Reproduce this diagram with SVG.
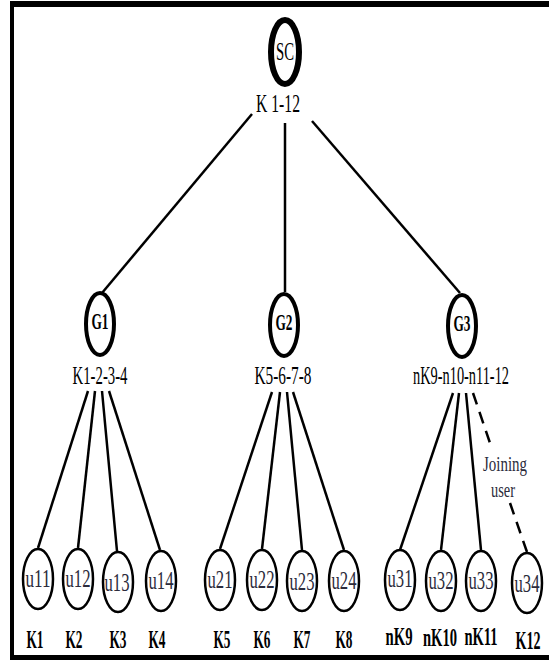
<svg xmlns="http://www.w3.org/2000/svg" width="549" height="660" viewBox="0 0 549 660">
<style>
  text { font-family: "Liberation Serif", "Times New Roman", serif; text-anchor: middle; fill: #000; }
  .lbl { font-size: 25px; }
  .u { font-size: 25px; fill: #2b2b3b; }
  .g { font-size: 24px; font-weight: bold; }
  .k { font-size: 25px; font-weight: bold; }
  .j { font-size: 21px; fill: #2b2b3b; }
  .frame { fill: #000; }
  .user { fill: #fff; stroke: #000; stroke-width: 2.5; }
  .grp { fill: #fff; stroke: #000; stroke-width: 4; }
  .root { fill: #fff; stroke: #000; stroke-width: 6; }
  .edge { stroke: #000; stroke-width: 2.5; fill: none; }
  .dash { stroke-dasharray: 12 8; }
</style>
<rect width="549" height="660" fill="#fff"/>
<g id="frame">
  <rect class="frame" x="10" y="1" width="539" height="6"/>
  <rect class="frame" x="10" y="1" width="4" height="659"/>
  <rect class="frame" x="10" y="655" width="539" height="5"/>
</g>
<g id="connectors">
  <line class="edge" x1="252" y1="114" x2="102" y2="293"/>
  <line class="edge" x1="285" y1="123" x2="285" y2="292"/>
  <line class="edge" x1="312" y1="121" x2="460" y2="293"/>
  <line class="edge" x1="88" y1="391" x2="38" y2="548"/>
  <line class="edge" x1="95" y1="391" x2="78" y2="548"/>
  <line class="edge" x1="102" y1="391" x2="117" y2="551"/>
  <line class="edge" x1="109" y1="391" x2="160" y2="550"/>
  <line class="edge" x1="272" y1="392" x2="220" y2="549"/>
  <line class="edge" x1="280" y1="392" x2="262" y2="549"/>
  <line class="edge" x1="287" y1="392" x2="302" y2="550"/>
  <line class="edge" x1="293" y1="392" x2="344" y2="550"/>
  <line class="edge" x1="453" y1="393" x2="400" y2="550"/>
  <line class="edge" x1="459" y1="393" x2="441" y2="550"/>
  <line class="edge" x1="466" y1="393" x2="481" y2="550"/>
  <line class="edge dash" x1="473" y1="393" x2="490" y2="443"/>
  <line class="edge dash" x1="510" y1="503" x2="527" y2="552"/>
  <text class="j" x="505" y="471" textLength="44" lengthAdjust="spacingAndGlyphs">Joining</text>
  <text class="j" x="503" y="497" textLength="24" lengthAdjust="spacingAndGlyphs">user</text>
</g>
<g id="SC">
  <ellipse class="root" cx="285" cy="52" rx="14" ry="32"/>
  <text class="lbl" x="285" y="60" textLength="18" lengthAdjust="spacingAndGlyphs">SC</text>
  <text class="lbl" x="278" y="112" textLength="44" lengthAdjust="spacingAndGlyphs">K 1-12</text>
</g>
<g id="G1">
  <ellipse class="grp" cx="100" cy="324" rx="14" ry="31"/>
  <text class="g" x="100" y="329" textLength="17" lengthAdjust="spacingAndGlyphs">G1</text>
  <text class="lbl" x="100" y="384" textLength="55" lengthAdjust="spacingAndGlyphs">K1-2-3-4</text>
</g>
<g id="G2">
  <ellipse class="grp" cx="284" cy="325" rx="14" ry="31"/>
  <text class="g" x="284" y="330" textLength="17" lengthAdjust="spacingAndGlyphs">G2</text>
  <text class="lbl" x="283" y="384" textLength="57" lengthAdjust="spacingAndGlyphs">K5-6-7-8</text>
</g>
<g id="G3">
  <ellipse class="grp" cx="462" cy="326" rx="14" ry="31"/>
  <text class="g" x="462" y="331" textLength="17" lengthAdjust="spacingAndGlyphs">G3</text>
  <text class="lbl" x="461" y="384" textLength="96" lengthAdjust="spacingAndGlyphs">nK9-n10-n11-12</text>
</g>
<g id="u11"><ellipse class="user" cx="38" cy="579" rx="15" ry="30"/><text class="u" x="38" y="587" textLength="25" lengthAdjust="spacingAndGlyphs">u11</text></g>
<g id="u12"><ellipse class="user" cx="78" cy="579" rx="15" ry="30"/><text class="u" x="78" y="587" textLength="25" lengthAdjust="spacingAndGlyphs">u12</text></g>
<g id="u13"><ellipse class="user" cx="118" cy="582" rx="15" ry="30"/><text class="u" x="117" y="591" textLength="25" lengthAdjust="spacingAndGlyphs">u13</text></g>
<g id="u14"><ellipse class="user" cx="161" cy="581" rx="15" ry="30"/><text class="u" x="161" y="589" textLength="25" lengthAdjust="spacingAndGlyphs">u14</text></g>
<g id="u21"><ellipse class="user" cx="220" cy="580" rx="15" ry="30"/><text class="u" x="220" y="588" textLength="25" lengthAdjust="spacingAndGlyphs">u21</text></g>
<g id="u22"><ellipse class="user" cx="262" cy="580" rx="15" ry="30"/><text class="u" x="262" y="588" textLength="25" lengthAdjust="spacingAndGlyphs">u22</text></g>
<g id="u23"><ellipse class="user" cx="302" cy="581" rx="15" ry="30"/><text class="u" x="302" y="590" textLength="25" lengthAdjust="spacingAndGlyphs">u23</text></g>
<g id="u24"><ellipse class="user" cx="344" cy="581" rx="15" ry="30"/><text class="u" x="344" y="589" textLength="25" lengthAdjust="spacingAndGlyphs">u24</text></g>
<g id="u31"><ellipse class="user" cx="400" cy="580" rx="15" ry="30"/><text class="u" x="400" y="587" textLength="25" lengthAdjust="spacingAndGlyphs">u31</text></g>
<g id="u32"><ellipse class="user" cx="441" cy="581" rx="15" ry="30"/><text class="u" x="441" y="589" textLength="25" lengthAdjust="spacingAndGlyphs">u32</text></g>
<g id="u33"><ellipse class="user" cx="481" cy="581" rx="15" ry="30"/><text class="u" x="481" y="589" textLength="25" lengthAdjust="spacingAndGlyphs">u33</text></g>
<g id="u34"><ellipse class="user" cx="527" cy="583" rx="15" ry="30"/><text class="u" x="527" y="592" textLength="25" lengthAdjust="spacingAndGlyphs">u34</text></g>
<g id="keys">
  <text class="k" x="35" y="648" textLength="17" lengthAdjust="spacingAndGlyphs">K1</text>
  <text class="k" x="74" y="648" textLength="17" lengthAdjust="spacingAndGlyphs">K2</text>
  <text class="k" x="118" y="648" textLength="17" lengthAdjust="spacingAndGlyphs">K3</text>
  <text class="k" x="157" y="648" textLength="17" lengthAdjust="spacingAndGlyphs">K4</text>
  <text class="k" x="222" y="648" textLength="17" lengthAdjust="spacingAndGlyphs">K5</text>
  <text class="k" x="262" y="648" textLength="17" lengthAdjust="spacingAndGlyphs">K6</text>
  <text class="k" x="302" y="648" textLength="17" lengthAdjust="spacingAndGlyphs">K7</text>
  <text class="k" x="344" y="648" textLength="17" lengthAdjust="spacingAndGlyphs">K8</text>
  <text class="k" x="399" y="645" textLength="27" lengthAdjust="spacingAndGlyphs">nK9</text>
  <text class="k" x="440" y="646" textLength="34" lengthAdjust="spacingAndGlyphs">nK10</text>
  <text class="k" x="481" y="645" textLength="33" lengthAdjust="spacingAndGlyphs">nK11</text>
  <text class="k" x="528" y="649" textLength="25" lengthAdjust="spacingAndGlyphs">K12</text>
</g>
</svg>
